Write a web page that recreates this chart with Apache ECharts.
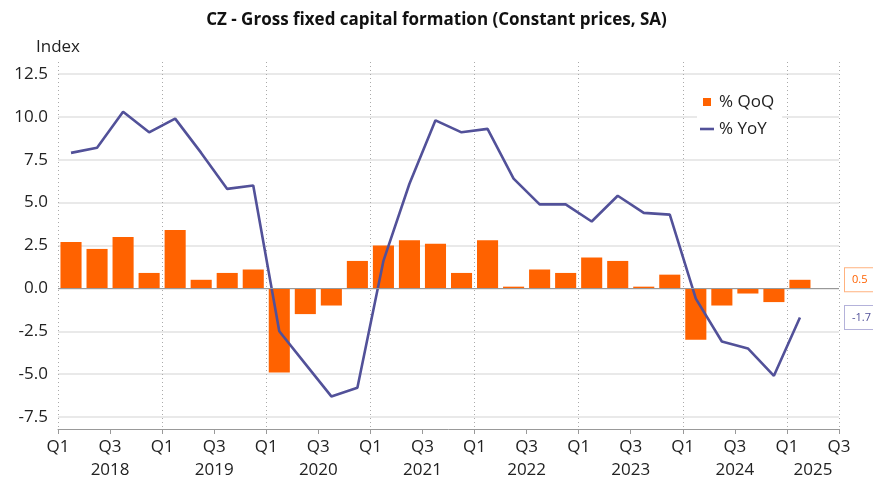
<!DOCTYPE html>
<html>
<head>
<meta charset="utf-8">
<script src="https://cdn.jsdelivr.net/npm/echarts@6/dist/echarts.min.js"></script>
<style>
html,body{margin:0;padding:0;background:#fff;}
#chart{width:873px;height:481px;}
</style>
</head>
<body>
<div id="chart"></div>
<script>
// ---- data ----
var categories = [
  '2018 Q1','2018 Q2','2018 Q3','2018 Q4',
  '2019 Q1','2019 Q2','2019 Q3','2019 Q4',
  '2020 Q1','2020 Q2','2020 Q3','2020 Q4',
  '2021 Q1','2021 Q2','2021 Q3','2021 Q4',
  '2022 Q1','2022 Q2','2022 Q3','2022 Q4',
  '2023 Q1','2023 Q2','2023 Q3','2023 Q4',
  '2024 Q1','2024 Q2','2024 Q3','2024 Q4',
  '2025 Q1','2025 Q2'
];
var qoq = [
  2.7, 2.3, 3.0, 0.9,
  3.4, 0.5, 0.9, 1.1,
  -4.9, -1.5, -1.0, 1.6,
  2.5, 2.8, 2.6, 0.9,
  2.8, 0.1, 1.1, 0.9,
  1.8, 1.6, 0.1, 0.8,
  -3.0, -1.0, -0.3, -0.8,
  0.5
];
var yoy = [
  7.9, 8.2, 10.3, 9.1,
  9.9, 7.9, 5.8, 6.0,
  -2.5, -4.4, -6.3, -5.8,
  1.6, 6.1, 9.8, 9.1,
  9.3, 6.4, 4.9, 4.9,
  3.9, 5.4, 4.4, 4.3,
  -0.6, -3.1, -3.5, -5.1,
  -1.7
];
var quarterTickLabels = ['Q1', 'Q3'];
var yearLabels = ['2018','2019','2020','2021','2022','2023','2024','2025'];

// ---- chart ----
var FONT = 'Open Sans';
var ORANGE = '#FF6200';
var PURPLE = '#525199';
var nCat = categories.length;

var chart = echarts.init(document.getElementById('chart'), null, {renderer: 'canvas'});

function yearAt(v) {
  for (var k = 0; k < yearLabels.length; k++) {
    var s = k * 4, e = Math.min(s + 4, nCat);
    if ((s + e) / 2 === v) return yearLabels[k];
  }
  return '';
}

var lastQoQ = qoq[qoq.length - 1];
var lastYoY = yoy[yoy.length - 1];

function endLabel(value, textColor, borderColor) {
  return {
    yAxis: value,
    lineStyle: {width: 0, color: 'rgba(0,0,0,0)', type: 'solid'},
    label: {
      show: true, position: 'end', distance: 6,
      formatter: String(value),
      color: textColor, fontSize: 11, fontFamily: FONT,
      backgroundColor: '#fff', borderColor: borderColor, borderWidth: 1,
      padding: [6, 10, 6, 7]
    }
  };
}

var option = {
  animation: false,
  backgroundColor: '#fff',
  textStyle: {fontFamily: FONT},
  title: {
    text: 'CZ - Gross fixed capital formation (Constant prices, SA)',
    left: 'center',
    top: 7,
    textStyle: {fontFamily: FONT, fontSize: 17, fontWeight: 'bold', color: '#111'}
  },
  legend: {
    orient: 'vertical',
    left: 697,
    top: 89,
    itemWidth: 14,
    itemHeight: 8,
    itemGap: 5,
    padding: [2, 8, 2, 3],
    backgroundColor: '#fff',
    textStyle: {fontFamily: FONT, fontSize: 17, color: '#222', lineHeight: 22},
    data: [
      {name: '% QoQ', icon: 'path://M3,0L11,0L11,8L3,8Z'},
      {name: '% YoY', icon: 'path://M0,0L14,0L14,2.6L0,2.6Z'}
    ]
  },
  grid: [
    {left: 58, right: 34, top: 62, bottom: 52},
    {left: 58, right: 34, top: 74, bottom: 64}
  ],
  xAxis: [
    {
      type: 'category', gridIndex: 0, data: categories, boundaryGap: true,
      position: 'bottom', show: false
    },
    {
      type: 'value', gridIndex: 0, min: 0, max: nCat, interval: 2, position: 'bottom',
      axisLine: {show: true, lineStyle: {color: '#999', width: 1}},
      axisTick: {show: true, length: 5, lineStyle: {color: '#999'}},
      splitLine: {show: false},
      axisLabel: {
        margin: 10, fontSize: 17, color: '#222', fontFamily: FONT,
        formatter: function (v) { return quarterTickLabels[(v % 4) / 2]; }
      }
    },
    {
      type: 'value', gridIndex: 0, min: 0, max: nCat, interval: 1, position: 'bottom',
      axisLine: {show: false}, axisTick: {show: false}, splitLine: {show: false},
      axisLabel: {
        margin: 33, fontSize: 17, color: '#222', fontFamily: FONT,
        showMinLabel: true, showMaxLabel: true,
        formatter: function (v) { return yearAt(v); }
      }
    },
    {
      type: 'value', gridIndex: 0, min: 0, max: nCat, interval: 4, position: 'bottom',
      axisLine: {show: false}, axisTick: {show: false}, axisLabel: {show: false},
      splitLine: {show: true, lineStyle: {color: '#aaa', type: [1, 3], width: 1}}
    },
    {type: 'value', gridIndex: 1, min: 0, max: nCat, show: false}
  ],
  yAxis: [
    {type: 'value', gridIndex: 0, min: -8.2, max: 13.2, show: false},
    {
      type: 'value', gridIndex: 1, min: -7.5, max: 12.5, interval: 2.5,
      name: 'Index', nameLocation: 'end', nameGap: 18,
      nameTextStyle: {fontFamily: FONT, fontSize: 17, color: '#222', align: 'center'},
      axisLine: {show: false}, axisTick: {show: false},
      axisLabel: {
        margin: 10, fontSize: 17, color: '#222', fontFamily: FONT,
        formatter: function (v) { return v.toFixed(1); }
      },
      splitLine: {show: true, lineStyle: {color: '#e2e2e2', width: 1.5}}
    }
  ],
  series: [
    {
      name: '% QoQ', type: 'bar', xAxisIndex: 0, yAxisIndex: 0,
      data: qoq, barCategoryGap: '19%',
      itemStyle: {color: ORANGE},
      markLine: {
        silent: true, symbol: 'none', animation: false,
        data: [
          {yAxis: 0, lineStyle: {color: '#999', width: 1.2, type: 'solid'}, label: {show: false}},
          endLabel(lastQoQ, ORANGE, '#ffb27f')
        ]
      }
    },
    {
      name: '% YoY', type: 'line', xAxisIndex: 0, yAxisIndex: 0,
      data: yoy, symbol: 'none',
      lineStyle: {color: PURPLE, width: 2.6},
      itemStyle: {color: PURPLE},
      markLine: {
        silent: true, symbol: 'none', animation: false,
        data: [
          endLabel(lastYoY, PURPLE, '#b4b2da')
        ]
      }
    }
  ]
};
chart.setOption(option);
</script>
</body>
</html>
